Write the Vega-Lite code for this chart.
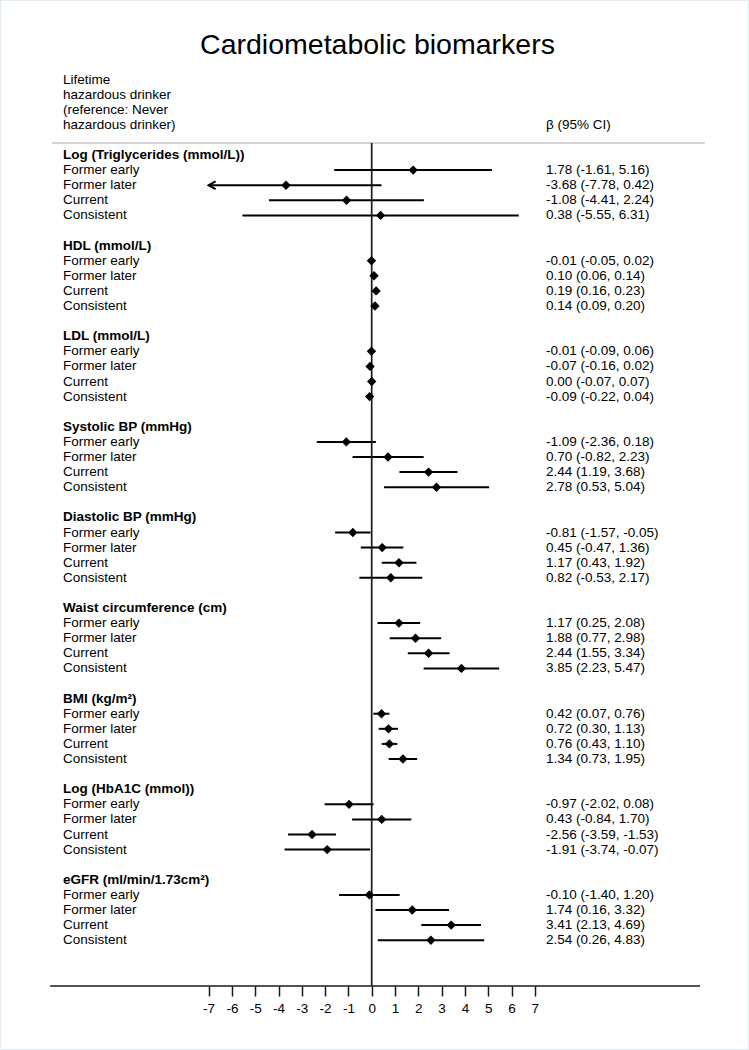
{
  "$schema": "https://vega.github.io/schema/vega-lite/v6.json",
  "width": 749,
  "height": 1050,
  "autosize": "none",
  "padding": 0,
  "background": "white",
  "config": {
    "font": "Liberation Sans",
    "view": {"stroke": "#e2ecef", "strokeWidth": 2},
    "text": {"font": "Liberation Sans", "fontSize": 13.5, "color": "#000000"}
  },
  "title": {
    "text": "Cardiometabolic biomarkers",
    "font": "Liberation Sans",
    "fontSize": 28.5,
    "fontWeight": "normal",
    "color": "#000000",
    "anchor": "middle",
    "frame": "group",
    "baseline": "alphabetic",
    "offset": -54.5,
    "dy": 27.5,
    "dx": 3
  },
  "datasets": {
    "rows": [
      {"row": -5, "kind": "colhead", "label": "Lifetime"},
      {"row": -4, "kind": "colhead", "label": "hazardous drinker"},
      {"row": -3, "kind": "colhead", "label": "(reference: Never"},
      {"row": -2, "kind": "colhead", "label": "hazardous drinker)", "ci": "β (95% CI)"},

      {"row": 0, "kind": "group", "label": "Log (Triglycerides (mmol/L))"},
      {"row": 1, "kind": "item", "label": "Former early", "beta": 1.78, "lo": -1.61, "hi": 5.16, "ci": "1.78 (-1.61, 5.16)"},
      {"row": 2, "kind": "item", "label": "Former later", "beta": -3.68, "lo": -7.78, "hi": 0.42, "ci": "-3.68 (-7.78, 0.42)"},
      {"row": 3, "kind": "item", "label": "Current", "beta": -1.08, "lo": -4.41, "hi": 2.24, "ci": "-1.08 (-4.41, 2.24)"},
      {"row": 4, "kind": "item", "label": "Consistent", "beta": 0.38, "lo": -5.55, "hi": 6.31, "ci": "0.38 (-5.55, 6.31)"},

      {"row": 6, "kind": "group", "label": "HDL (mmol/L)"},
      {"row": 7, "kind": "item", "label": "Former early", "beta": -0.01, "lo": -0.05, "hi": 0.02, "ci": "-0.01 (-0.05, 0.02)"},
      {"row": 8, "kind": "item", "label": "Former later", "beta": 0.10, "lo": 0.06, "hi": 0.14, "ci": "0.10 (0.06, 0.14)"},
      {"row": 9, "kind": "item", "label": "Current", "beta": 0.19, "lo": 0.16, "hi": 0.23, "ci": "0.19 (0.16, 0.23)"},
      {"row": 10, "kind": "item", "label": "Consistent", "beta": 0.14, "lo": 0.09, "hi": 0.20, "ci": "0.14 (0.09, 0.20)"},

      {"row": 12, "kind": "group", "label": "LDL (mmol/L)"},
      {"row": 13, "kind": "item", "label": "Former early", "beta": -0.01, "lo": -0.09, "hi": 0.06, "ci": "-0.01 (-0.09, 0.06)"},
      {"row": 14, "kind": "item", "label": "Former later", "beta": -0.07, "lo": -0.16, "hi": 0.02, "ci": "-0.07 (-0.16, 0.02)"},
      {"row": 15, "kind": "item", "label": "Current", "beta": 0.00, "lo": -0.07, "hi": 0.07, "ci": "0.00 (-0.07, 0.07)"},
      {"row": 16, "kind": "item", "label": "Consistent", "beta": -0.09, "lo": -0.22, "hi": 0.04, "ci": "-0.09 (-0.22, 0.04)"},

      {"row": 18, "kind": "group", "label": "Systolic BP (mmHg)"},
      {"row": 19, "kind": "item", "label": "Former early", "beta": -1.09, "lo": -2.36, "hi": 0.18, "ci": "-1.09 (-2.36, 0.18)"},
      {"row": 20, "kind": "item", "label": "Former later", "beta": 0.70, "lo": -0.82, "hi": 2.23, "ci": "0.70 (-0.82, 2.23)"},
      {"row": 21, "kind": "item", "label": "Current", "beta": 2.44, "lo": 1.19, "hi": 3.68, "ci": "2.44 (1.19, 3.68)"},
      {"row": 22, "kind": "item", "label": "Consistent", "beta": 2.78, "lo": 0.53, "hi": 5.04, "ci": "2.78 (0.53, 5.04)"},

      {"row": 24, "kind": "group", "label": "Diastolic BP (mmHg)"},
      {"row": 25, "kind": "item", "label": "Former early", "beta": -0.81, "lo": -1.57, "hi": -0.05, "ci": "-0.81 (-1.57, -0.05)"},
      {"row": 26, "kind": "item", "label": "Former later", "beta": 0.45, "lo": -0.47, "hi": 1.36, "ci": "0.45 (-0.47, 1.36)"},
      {"row": 27, "kind": "item", "label": "Current", "beta": 1.17, "lo": 0.43, "hi": 1.92, "ci": "1.17 (0.43, 1.92)"},
      {"row": 28, "kind": "item", "label": "Consistent", "beta": 0.82, "lo": -0.53, "hi": 2.17, "ci": "0.82 (-0.53, 2.17)"},

      {"row": 30, "kind": "group", "label": "Waist circumference (cm)"},
      {"row": 31, "kind": "item", "label": "Former early", "beta": 1.17, "lo": 0.25, "hi": 2.08, "ci": "1.17 (0.25, 2.08)"},
      {"row": 32, "kind": "item", "label": "Former later", "beta": 1.88, "lo": 0.77, "hi": 2.98, "ci": "1.88 (0.77, 2.98)"},
      {"row": 33, "kind": "item", "label": "Current", "beta": 2.44, "lo": 1.55, "hi": 3.34, "ci": "2.44 (1.55, 3.34)"},
      {"row": 34, "kind": "item", "label": "Consistent", "beta": 3.85, "lo": 2.23, "hi": 5.47, "ci": "3.85 (2.23, 5.47)"},

      {"row": 36, "kind": "group", "label": "BMI (kg/m²)"},
      {"row": 37, "kind": "item", "label": "Former early", "beta": 0.42, "lo": 0.07, "hi": 0.76, "ci": "0.42 (0.07, 0.76)"},
      {"row": 38, "kind": "item", "label": "Former later", "beta": 0.72, "lo": 0.30, "hi": 1.13, "ci": "0.72 (0.30, 1.13)"},
      {"row": 39, "kind": "item", "label": "Current", "beta": 0.76, "lo": 0.43, "hi": 1.10, "ci": "0.76 (0.43, 1.10)"},
      {"row": 40, "kind": "item", "label": "Consistent", "beta": 1.34, "lo": 0.73, "hi": 1.95, "ci": "1.34 (0.73, 1.95)"},

      {"row": 42, "kind": "group", "label": "Log (HbA1C (mmol))"},
      {"row": 43, "kind": "item", "label": "Former early", "beta": -0.97, "lo": -2.02, "hi": 0.08, "ci": "-0.97 (-2.02, 0.08)"},
      {"row": 44, "kind": "item", "label": "Former later", "beta": 0.43, "lo": -0.84, "hi": 1.70, "ci": "0.43 (-0.84, 1.70)"},
      {"row": 45, "kind": "item", "label": "Current", "beta": -2.56, "lo": -3.59, "hi": -1.53, "ci": "-2.56 (-3.59, -1.53)"},
      {"row": 46, "kind": "item", "label": "Consistent", "beta": -1.91, "lo": -3.74, "hi": -0.07, "ci": "-1.91 (-3.74, -0.07)"},

      {"row": 48, "kind": "group", "label": "eGFR (ml/min/1.73cm²)"},
      {"row": 49, "kind": "item", "label": "Former early", "beta": -0.10, "lo": -1.40, "hi": 1.20, "ci": "-0.10 (-1.40, 1.20)"},
      {"row": 50, "kind": "item", "label": "Former later", "beta": 1.74, "lo": 0.16, "hi": 3.32, "ci": "1.74 (0.16, 3.32)"},
      {"row": 51, "kind": "item", "label": "Current", "beta": 3.41, "lo": 2.13, "hi": 4.69, "ci": "3.41 (2.13, 4.69)"},
      {"row": 52, "kind": "item", "label": "Consistent", "beta": 2.54, "lo": 0.26, "hi": 4.83, "ci": "2.54 (0.26, 4.83)"}
    ]
  },
  "data": {"name": "rows"},
  "layer": [
    {
      "transform": [
        {"filter": "isValid(datum.beta)"},
        {"calculate": "max(datum.lo, -7)", "as": "lo_shown"}
      ],
      "mark": {"type": "rule", "color": "#000000", "strokeWidth": 2},
      "encoding": {
        "y": {
          "field": "row",
          "type": "quantitative",
          "scale": {"domain": [-10.265, 59.27], "reverse": true, "nice": false, "zero": false},
          "axis": null
        },
        "x": {
          "field": "lo_shown",
          "type": "quantitative",
          "scale": {"domain": [-15.953, 16.193], "nice": false, "zero": false},
          "axis": {
            "orient": "bottom",
            "offset": -64,
            "values": [-7, -6, -5, -4, -3, -2, -1, 0, 1, 2, 3, 4, 5, 6, 7],
            "labelExpr": "'' + datum.value",
            "domain": false,
            "grid": false,
            "ticks": true,
            "tickSize": 10,
            "tickWidth": 1.5,
            "tickColor": "#1a1a1a",
            "labelFont": "Liberation Sans",
            "labelFontSize": 13.5,
            "labelColor": "#000000",
            "labelPadding": 5,
            "labelFlush": false,
            "labelOverlap": false,
            "title": null
          }
        },
        "x2": {"field": "hi"}
      }
    },
    {
      "data": {"values": [{}]},
      "mark": {"type": "rule", "color": "#c4c4c4", "strokeWidth": 1.5},
      "encoding": {
        "y": {"datum": -0.79, "type": "quantitative"},
        "x": {"datum": -13.72, "type": "quantitative"},
        "x2": {"datum": 14.3}
      }
    },
    {
      "data": {"values": [{}]},
      "mark": {"type": "rule", "color": "#1a1a1a", "strokeWidth": 1.7},
      "encoding": {
        "x": {"datum": 0, "type": "quantitative"},
        "y": {"datum": -0.79, "type": "quantitative"},
        "y2": {"datum": 55.03}
      }
    },
    {
      "data": {"values": [{}]},
      "mark": {"type": "rule", "color": "#1a1a1a", "strokeWidth": 1.5},
      "encoding": {
        "y": {"datum": 55.03, "type": "quantitative"},
        "x": {"datum": -13.8, "type": "quantitative"},
        "x2": {"datum": 14.09}
      }
    },
    {
      "transform": [{"filter": "isValid(datum.beta) && datum.lo < -7"}],
      "mark": {
        "type": "point",
        "shape": "M1,-0.55L0,0L1,0.55",
        "filled": false,
        "stroke": "#000000",
        "strokeWidth": 2,
        "size": 196,
        "opacity": 1
      },
      "encoding": {
        "y": {"field": "row", "type": "quantitative"},
        "x": {"datum": -7, "type": "quantitative"}
      }
    },
    {
      "transform": [{"filter": "isValid(datum.beta)"}],
      "mark": {"type": "point", "shape": "diamond", "filled": true, "color": "#000000", "size": 88, "opacity": 1},
      "encoding": {
        "y": {"field": "row", "type": "quantitative"},
        "x": {"field": "beta", "type": "quantitative"}
      }
    },
    {
      "transform": [{"filter": "datum.kind !== 'group'"}],
      "mark": {"type": "text", "align": "left", "baseline": "middle", "fontSize": 13.5},
      "encoding": {
        "y": {"field": "row", "type": "quantitative"},
        "x": {"datum": -13.25, "type": "quantitative"},
        "text": {"field": "label"}
      }
    },
    {
      "transform": [{"filter": "datum.kind === 'group'"}],
      "mark": {"type": "text", "align": "left", "baseline": "middle", "fontSize": 13.5, "fontWeight": "bold"},
      "encoding": {
        "y": {"field": "row", "type": "quantitative"},
        "x": {"datum": -13.25, "type": "quantitative"},
        "text": {"field": "label"}
      }
    },
    {
      "transform": [{"filter": "isValid(datum.ci)"}],
      "mark": {"type": "text", "align": "left", "baseline": "middle", "fontSize": 13.5},
      "encoding": {
        "y": {"field": "row", "type": "quantitative"},
        "x": {"datum": 7.48, "type": "quantitative"},
        "text": {"field": "ci"}
      }
    }
  ]
}
